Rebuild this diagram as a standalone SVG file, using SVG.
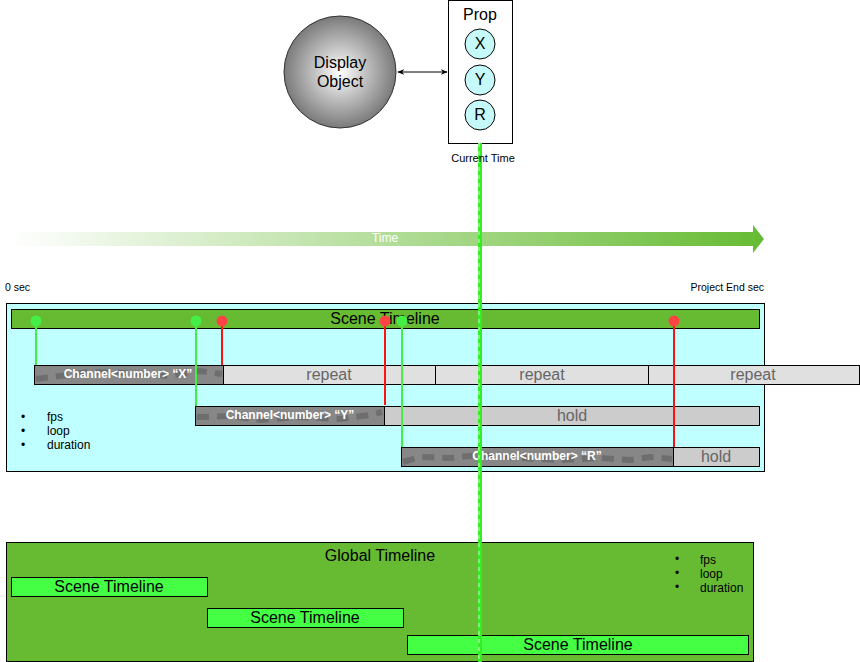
<svg xmlns="http://www.w3.org/2000/svg" width="860" height="662" viewBox="0 0 860 662">
<defs>
<radialGradient id="gSphere" cx="50%" cy="50%" r="50%">
<stop offset="0" stop-color="#ffffff"/>
<stop offset="1" stop-color="#7a7a7a"/>
</radialGradient>
<linearGradient id="gTime" x1="10" y1="0" x2="764" y2="0" gradientUnits="userSpaceOnUse">
<stop offset="0" stop-color="#66bb33" stop-opacity="0"/>
<stop offset="1" stop-color="#66bb33" stop-opacity="1"/>
</linearGradient>
<marker id="ah" viewBox="0 0 10 10" refX="9" refY="5" markerWidth="7" markerHeight="7" orient="auto-start-reverse">
<path d="M0,1 L10,5 L0,9 L3,5 Z" fill="#000"/>
</marker>
</defs>
<style>
text{font-family:"Liberation Sans",Arial,Helvetica,sans-serif;}
.c{text-anchor:middle;dominant-baseline:central;}
.box{stroke:#000;stroke-width:1;}
.prop{fill:#c6fafa;stroke:#000;stroke-width:1;}
.chan{fill:#878787;stroke:#000;stroke-width:1;}
.chanpat{fill:none;stroke:#6e6e6e;stroke-width:6;stroke-dasharray:12 8;}
.ctext{fill:#fff;font-weight:bold;font-size:12px;}
.rep{fill:#e0e0e0;stroke:#000;stroke-width:1;}
.hold{fill:#cccccc;stroke:#000;stroke-width:1;}
.gtext{fill:#666;font-size:16px;}
.st{fill:#44ff44;stroke:#000;stroke-width:1;}
.gl{stroke:#44ee44;stroke-width:2;}
.rl{stroke:#ff1111;stroke-width:2;}
.gd{fill:#44ee44;}
.rd{fill:#ff4444;}
.sm{font-size:12px;fill:#000;}
.big{font-size:16px;}
</style>

<g id="display-object">
<circle cx="340" cy="72" r="56" fill="url(#gSphere)" stroke="#333" stroke-width="1"/>
<text class="c big" x="340" y="62">Display</text>
<text class="c big" x="340" y="81">Object</text>
</g>

<g id="prop">
<rect x="448.5" y="0.5" width="64" height="143" fill="#fff" stroke="#000"/>
<text class="c big" x="480" y="14">Prop</text>
<circle class="prop" cx="480" cy="44" r="15"/>
<text class="c big" x="480" y="43">X</text>
<circle class="prop" cx="480" cy="80" r="15"/>
<text class="c big" x="480" y="79">Y</text>
<circle class="prop" cx="480" cy="115" r="15"/>
<text class="c big" x="480" y="114">R</text>
</g>

<g id="time-arrow">
<polygon points="10,232 753,232 753,225 764,239 753,253 753,246 10,246" fill="url(#gTime)"/>
<text class="c" x="385" y="238" font-size="12" fill="#fff">Time</text>
</g>
<text x="5" y="291" font-size="10.5" fill="#000">0 sec</text>
<text x="764" y="291" font-size="10.5" fill="#000" text-anchor="end">Project End sec</text>

<g id="scene-timeline-panel">
<rect class="box" x="6.5" y="303.5" width="758" height="168" fill="#c0ffff"/>
<rect class="box" x="11.5" y="309.5" width="748" height="19" fill="#66bb33"/>
<text class="c big" x="385" y="318">Scene Timeline</text>
<text x="21" y="421" class="sm">•</text>
<text x="47" y="421" class="sm">fps</text>
<text x="21" y="435" class="sm">•</text>
<text x="47" y="435" class="sm">loop</text>
<text x="21" y="449" class="sm">•</text>
<text x="47" y="449" class="sm">duration</text>
</g>

<g id="channel-x">
<rect class="chan" x="34.5" y="365.5" width="189" height="19"/>
<path class="chanpat" d="M36,379 L60,376 L90,372 L130,373 L170,376 L200,371 L222,374"/>
<text class="c ctext" x="128" y="374">Channel&lt;number&gt; “X”</text>
</g>
<g id="repeat-1"><rect class="rep" x="223.5" y="365.5" width="212" height="19"/><text class="c gtext" x="329" y="374">repeat</text></g>
<g id="repeat-2"><rect class="rep" x="435.5" y="365.5" width="213" height="19"/><text class="c gtext" x="542" y="374">repeat</text></g>
<g id="repeat-3"><rect class="rep" x="648.5" y="365.5" width="211" height="19"/><text class="c gtext" x="753" y="374">repeat</text></g>

<g id="channel-y">
<rect class="chan" x="195.5" y="406.5" width="189" height="19"/>
<path class="chanpat" d="M197,417 L230,416 L260,420 L300,417 L340,419 L370,415 L382,412"/>
<text class="c ctext" x="290" y="415">Channel&lt;number&gt; “Y”</text>
</g>
<g id="hold-y"><rect class="hold" x="384.5" y="406.5" width="375" height="19"/><text class="c gtext" x="572" y="415">hold</text></g>

<g id="channel-r">
<rect class="chan" x="401.5" y="447.5" width="272" height="19"/>
<path class="chanpat" d="M403,462 L420,457 L450,458 L480,455 L520,458 L560,460 L600,458 L630,460 L650,457 L672,459"/>
<text class="c ctext" x="537" y="456">Channel&lt;number&gt; “R”</text>
</g>
<g id="hold-r"><rect class="hold" x="673.5" y="447.5" width="86" height="19"/><text class="c gtext" x="716" y="456">hold</text></g>

<g id="connectors">
<line class="gl" x1="36" y1="321" x2="36" y2="365"/>
<line class="rl" x1="222" y1="321" x2="222" y2="365"/>
<line class="gl" x1="196" y1="321" x2="196" y2="406"/>
<line class="rl" x1="385" y1="321" x2="385" y2="405"/>
<line class="gl" x1="402" y1="321" x2="402" y2="447"/>
<line class="rl" x1="674" y1="321" x2="674" y2="447"/>
<circle class="gd" cx="36" cy="321" r="5.5"/>
<circle class="gd" cx="196" cy="321" r="5.5"/>
<circle class="rd" cx="222" cy="321" r="5.5"/>
<circle class="rd" cx="385" cy="321" r="5.5"/>
<circle class="gd" cx="402" cy="321" r="5.5"/>
<circle class="rd" cx="674" cy="321" r="5.5"/>
<line x1="398" y1="72" x2="447" y2="72" stroke="#000" stroke-width="1" marker-start="url(#ah)" marker-end="url(#ah)"/>
</g>

<g id="global-timeline">
<rect class="box" x="6.5" y="542.5" width="747" height="119" fill="#66bb33"/>
<text class="c big" x="380" y="555">Global Timeline</text>
<text x="675" y="563" class="sm">•</text>
<text x="700" y="564" class="sm">fps</text>
<text x="675" y="577" class="sm">•</text>
<text x="700" y="578" class="sm">loop</text>
<text x="675" y="591" class="sm">•</text>
<text x="700" y="592" class="sm">duration</text>
</g>
<g id="scene-1"><rect class="st" x="11.5" y="577.5" width="196" height="19"/><text class="c big" x="109" y="586">Scene Timeline</text></g>
<g id="scene-2"><rect class="st" x="207.5" y="608.5" width="196" height="19"/><text class="c big" x="305" y="617">Scene Timeline</text></g>
<g id="scene-3"><rect class="st" x="407.5" y="635.5" width="341" height="19"/><text class="c big" x="578" y="644">Scene Timeline</text></g>

<g id="current-time">
<line x1="480" y1="143" x2="480" y2="662" stroke="#33ee22" stroke-width="4"/>
<line x1="479" y1="143" x2="479" y2="662" stroke="#ffffff" stroke-width="0.8" stroke-dasharray="4 4"/>
<text x="483" y="162" font-size="11" fill="#000" text-anchor="middle">Current Time</text>
</g>
</svg>
